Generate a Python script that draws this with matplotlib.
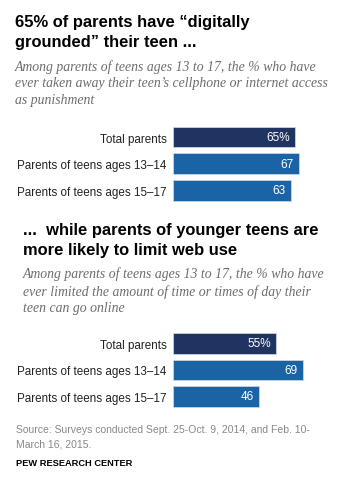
import matplotlib
matplotlib.use("Agg")
import matplotlib.pyplot as plt

# data
categories = ["Total parents", "Parents of teens ages 13\u201314", "Parents of teens ages 15\u201317"]
grounded = [65, 67, 63]
limited = [55, 69, 46]

title1 = "65% of parents have \u201cdigitally\ngrounded\u201d their teen ..."
sub1 = ("Among parents of teens ages 13 to 17, the % who have\n"
        "ever taken away their teen\u2019s cellphone or internet access\n"
        "as punishment")
title2 = "...  while parents of younger teens are\nmore likely to limit web use"
sub2 = ("Among parents of teens ages 13 to 17, the % who have\n"
        "ever limited the amount of time or times of day their\n"
        "teen can go online")
source = "Source: Surveys conducted Sept. 25-Oct. 9, 2014, and Feb. 10-\nMarch 16, 2015."
credit = "PEW RESEARCH CENTER"

NAVY = "#1f3461"
BLUE = "#1a63a5"
GREY = "#6d6d6d"

W, H = 338, 481
fig = plt.figure(figsize=(W / 100, H / 100), dpi=100)
fig.patch.set_facecolor("white")


def px(x, y):
    return x / W, 1 - y / H


def txt(x, y, s, **kw):
    fx, fy = px(x, y)
    fig.text(fx, fy, s, **kw)


def bar_panel(top, bottom, values):
    left = 173
    ax = fig.add_axes([left / W, 1 - bottom / H, (W - left) / W, (bottom - top) / H])
    scale = 1.88  # px per percentage point
    ax.set_xlim(0, (W - left) / scale)
    ax.set_ylim(len(values) - 0.5, -0.5)
    colors = [NAVY] + [BLUE] * (len(values) - 1)
    ax.barh(range(len(values)), values, height=0.78, color=colors,
            edgecolor="#c9d3e3", linewidth=0.6)
    for i, v in enumerate(values):
        lab = f"{v}%" if i == 0 else f"{v}"
        ax.annotate(lab, (v, i), xytext=(-4, 0), textcoords="offset points",
                    ha="right", va="center", color="white", fontsize=8.5,
                    family="Liberation Sans")
    ax.set_yticks(range(len(values)))
    ax.set_yticklabels(categories, fontsize=8.4, family="Liberation Sans", color="#222222")
    ax.tick_params(axis="y", length=0, pad=4.5)
    ax.set_xticks([])
    for s in ax.spines.values():
        s.set_visible(False)
    ax.patch.set_alpha(0)
    return ax


# top section
txt(15, 32.4, title1, fontsize=11.9, fontweight="bold", family="Liberation Sans",
    va="center", ha="left", linespacing=1.47, color="black")
txt(15, 83.5, sub1, fontsize=9.9, style="italic", family="Liberation Serif",
    va="center", ha="left", linespacing=1.33, color=GREY)
bar_panel(124.8, 204.5, grounded)

# bottom section
txt(23, 240.5, title2, fontsize=11.9, fontweight="bold", family="Liberation Sans",
    va="center", ha="left", linespacing=1.47, color="black")
txt(23, 291.3, sub2, fontsize=9.9, style="italic", family="Liberation Serif",
    va="center", ha="left", linespacing=1.33, color=GREY)
bar_panel(331, 410.8, limited)

# footer
txt(15.5, 437.5, source, fontsize=7.5, family="Liberation Sans", color="#888888",
    va="center", ha="left", linespacing=1.55)
txt(15.5, 464, credit, fontsize=6.7, fontweight="bold", family="Liberation Sans",
    color="black", va="center", ha="left")

fig.savefig("out.png", dpi=100, facecolor="white")
